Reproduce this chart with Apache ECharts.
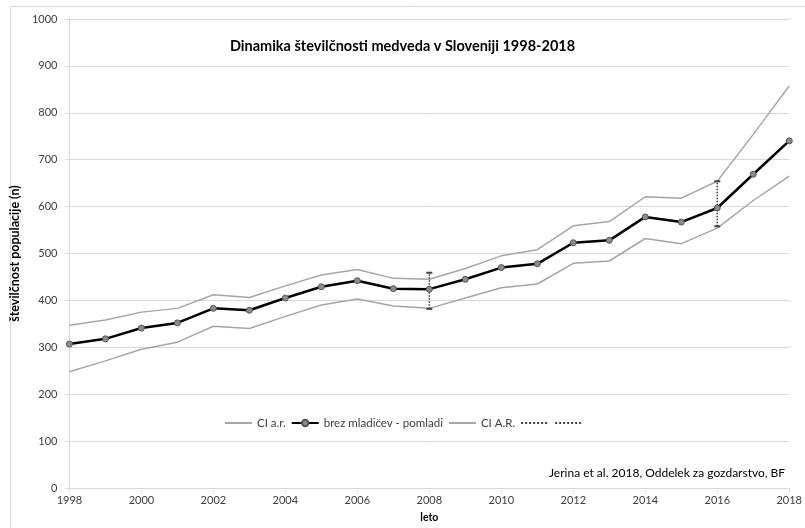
<!DOCTYPE html>
<html>
<head>
<meta charset="utf-8">
<script src="https://cdn.jsdelivr.net/npm/echarts@6/dist/echarts.min.js"></script>
<style>html,body{margin:0;padding:0;background:#fff}#c{width:805px;height:528px}</style>
</head>
<body>
<div id="c"></div>
<script>
const years = [1998,1999,2000,2001,2002,2003,2004,2005,2006,2007,2008,2009,2010,2011,2012,2013,2014,2015,2016,2017,2018];
const ciUpper = [347,358,375,383,412,406,431,454,466,447,445,468,495,508,559,568,621,618,654,754,857];
const mainVals = [307,318,341,352,383,379,405,429,442,425,424,445,470,478,523,528,578,567,597,669,740];
const ciLower = [248,271,296,311,345,340,366,390,403,388,383,405,427,435,479,484,532,521,554,613,665];
const err2008 = [[2008,382],[2008,459]];
const err2016 = [[2016,558],[2016,654]];
const yTicks = {min:0, max:1000, interval:100};
const xTicks = {min:1998, max:2018, interval:2};

const pair = (arr) => years.map((y,i)=>[y, arr[i]]);
const FONT = 'Lato, "Open Sans", sans-serif';
const chart = echarts.init(document.getElementById('c'), null, {renderer:'canvas'});
chart.setOption({
  backgroundColor:'#fff',
  animation:false,
  textStyle:{fontFamily:FONT},
  title:{
    text:'Dinamika številčnosti medveda v Sloveniji 1998-2018',
    left:'center', top:34,
    textStyle:{fontSize:14.5, fontWeight:'bold', color:'#000', fontFamily:FONT}
  },
  graphic:[
    {type:'rect', shape:{x:10.5,y:6.5,width:800,height:530}, style:{fill:'none', stroke:'#d9d9d9', lineWidth:1}, silent:true},
    {type:'text', left:549, top:467, style:{text:'Jerina et al. 2018, Oddelek za gozdarstvo, BF', fontSize:12, fill:'#000', fontFamily:FONT}}
  ],
  legend:{
    top:412, left:219,
    itemWidth:27, itemHeight:8, itemGap:5,
    textStyle:{fontSize:11.5, color:'#404040', fontFamily:FONT},
    formatter: n => n.indexOf('err')===0 ? '' : n,
    data:[
      {name:'CI a.r.', itemStyle:{opacity:0}},
      {name:'brez mladičev - pomladi'},
      {name:'CI A.R.', itemStyle:{opacity:0}},
      {name:'err1', itemStyle:{opacity:0}},
      {name:'err2', itemStyle:{opacity:0}}
    ]
  },
  grid:{left:67, right:13, top:19, bottom:37},
  xAxis:{
    type:'value', min:xTicks.min, max:xTicks.max, interval:xTicks.interval,
    name:'leto', nameLocation:'middle', nameGap:24,
    nameTextStyle:{fontSize:10.5, fontWeight:'bold', color:'#000'},
    axisLine:{show:true, lineStyle:{color:'#d9d9d9', width:1}},
    axisTick:{show:true, length:4, lineStyle:{color:'#d9d9d9'}},
    axisLabel:{fontSize:11, color:'#404040', margin:7, formatter:v=>String(v)},
    splitLine:{show:false}
  },
  yAxis:{
    type:'value', min:yTicks.min, max:yTicks.max, interval:yTicks.interval,
    name:'številčnost populacije (n)', nameLocation:'middle', nameGap:46,
    nameTextStyle:{fontSize:12.5, fontWeight:'bold', color:'#000'},
    axisLine:{show:true, lineStyle:{color:'#d9d9d9', width:1}},
    axisTick:{show:true, length:4, lineStyle:{color:'#d9d9d9'}},
    axisLabel:{fontSize:11, color:'#404040', margin:12, formatter:v=>String(v)},
    splitLine:{show:true, lineStyle:{color:'#d9d9d9', width:1}}
  },
  series:[
    {name:'CI a.r.', type:'line', data:pair(ciUpper), symbol:'none',
     lineStyle:{color:'#a6a6a6', width:1.5}, itemStyle:{color:'#a6a6a6'}, z:2},
    {name:'brez mladičev - pomladi', type:'line', data:pair(mainVals), symbol:'circle', symbolSize:6, showSymbol:true,
     lineStyle:{color:'#000', width:2.5}, itemStyle:{color:'#8c8c8c', borderColor:'#555', borderWidth:1}, z:4},
    {name:'CI A.R.', type:'line', data:pair(ciLower), symbol:'none',
     lineStyle:{color:'#a6a6a6', width:1.5}, itemStyle:{color:'#a6a6a6'}, z:2},
    {name:'err1', type:'line', data:err2008, symbol:'rect', symbolSize:[6,2],
     lineStyle:{color:'#404040', width:1.5, type:'dotted'}, itemStyle:{color:'#404040'}, z:3},
    {name:'err2', type:'line', data:err2016, symbol:'rect', symbolSize:[6,2],
     lineStyle:{color:'#404040', width:1.5, type:'dotted'}, itemStyle:{color:'#404040'}, z:3}
  ]
});
</script>
</body>
</html>
